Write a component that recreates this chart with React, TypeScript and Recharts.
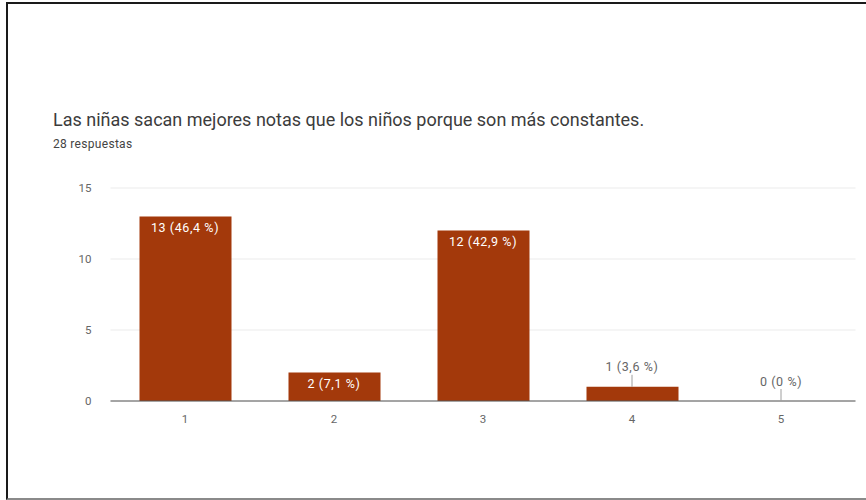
import React from 'react';
import { ComposedChart, Bar, Line, XAxis, YAxis, CartesianGrid } from 'recharts';

const categories = ['1', '2', '3', '4', '5'];
const counts = [13, 2, 12, 1, 0];
const barLabels = ['13 (46,4 %)', '2 (7,1 %)', '12 (42,9 %)', '1 (3,6 %)', '0 (0 %)'];
const yTicks = [0, 5, 10, 15];

const BAR_COLOR = '#a3390b';
const FONT = 'Roboto, "Noto Sans", sans-serif';

const chartData = categories.map((name, i) => ({ name, value: counts[i] }));

// labels sit on an invisible line so the 0 bar still gets one
const renderLabel = (props: any) => {
  const { cx, cy, index } = props;
  const text = barLabels[index] ?? '';
  if (cx == null || cy == null) return <g key={`l-${index}`} />;
  if (counts[index] >= 2) {
    return (
      <text
        key={`l-${index}`}
        x={cx}
        y={cy + 11}
        fill="#ffffff"
        fontSize={12.5}
        letterSpacing={0.6}
        fontFamily={FONT}
        textAnchor="middle"
        dominantBaseline="central"
      >
        {text}
      </text>
    );
  }
  return (
    <g key={`l-${index}`}>
      <line x1={cx} x2={cx} y1={cy - 12} y2={cy} stroke="#9e9e9e" strokeWidth={1} />
      <text
        x={cx}
        y={cy - 20}
        fill="#666"
        fontSize={12.5}
        letterSpacing={0.6}
        fontFamily={FONT}
        textAnchor="middle"
        dominantBaseline="central"
      >
        {text}
      </text>
    </g>
  );
};

export default function App() {
  return (
    <div style={{ position: 'relative', width: 866, height: 500, background: '#fff', overflow: 'hidden', fontFamily: FONT }}>
      <style>{'body{margin:0}'}</style>
      {/* frame of the screenshot */}
      <div
        style={{
          position: 'absolute',
          left: 6,
          top: 2,
          width: 880,
          height: 494,
          borderLeft: '2px solid #1a1a1a',
          borderTop: '2px solid #1a1a1a',
          borderBottom: '2px solid #8a8a8a',
        }}
      />
      <div style={{ position: 'absolute', left: 53, top: 109, fontSize: 18, color: '#3c3c3c', whiteSpace: 'nowrap' }}>
        Las niñas sacan mejores notas que los niños porque son más constantes.
      </div>
      <div style={{ position: 'absolute', left: 53, top: 137, fontSize: 12, letterSpacing: 0.3, color: '#444', whiteSpace: 'nowrap' }}>
        28 respuestas
      </div>
      <div style={{ position: 'absolute', left: 0, top: 0 }}>
        <ComposedChart width={866} height={500} data={chartData} margin={{ top: 188, right: 10.5, left: 70.5, bottom: 69 }} barSize={92}>
          <CartesianGrid vertical={false} stroke="#ebebeb" />
          <XAxis
            dataKey="name"
            axisLine={{ stroke: '#555', strokeWidth: 1 }}
            tickLine={false}
            tickSize={0}
            tickMargin={14}
            height={30}
            tick={{ fontSize: 11.5, fill: '#666', fontFamily: FONT }}
          />
          <YAxis
            domain={[0, 15]}
            ticks={yTicks}
            axisLine={false}
            tickLine={false}
            tickSize={0}
            tickMargin={19}
            width={40}
            tick={{ fontSize: 11.5, fill: '#666', fontFamily: FONT }}
          />
          <Bar dataKey="value" fill={BAR_COLOR} isAnimationActive={false} />
          <Line
            dataKey="value"
            stroke="none"
            dot={renderLabel}
            activeDot={false}
            legendType="none"
            isAnimationActive={false}
          />
        </ComposedChart>
      </div>
    </div>
  );
}
